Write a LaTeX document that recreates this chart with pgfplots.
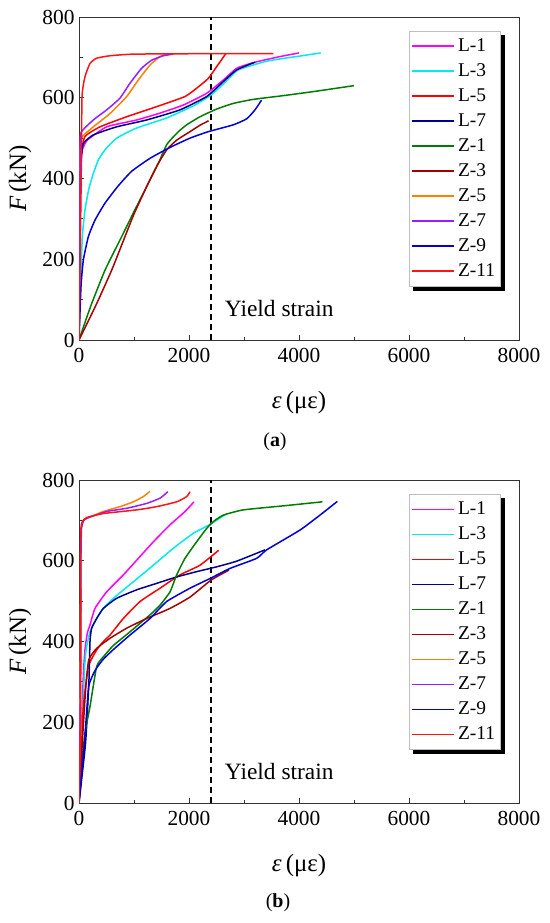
\documentclass[border=0pt]{standalone}
\usepackage{pgfplots}
\pgfplotsset{compat=1.18}
\usepackage{fontspec}
\setmainfont{Liberation Serif}
\definecolor{cL1}{RGB}{255,0,255}
\definecolor{cL3}{RGB}{0,235,235}
\definecolor{cL5}{RGB}{255,0,0}
\definecolor{cL7}{RGB}{0,0,140}
\definecolor{cZ1}{RGB}{0,125,0}
\definecolor{cZ3}{RGB}{165,0,0}
\definecolor{cZ5}{RGB}{255,128,0}
\definecolor{cZ7}{RGB}{150,30,255}
\definecolor{cZ9}{RGB}{0,0,215}
\definecolor{cZ11}{RGB}{255,20,20}
\pgfplotsset{
  myaxis/.style={
    scale only axis, width=440bp, height=323bp,
    xmin=0, xmax=8000, ymin=0, ymax=800,
    xtick={0,2000,...,8000}, ytick={0,200,...,800},
    minor xtick={1000,3000,5000,7000}, minor ytick={100,300,500,700},
    tick align=inside, xtick pos=left, ytick pos=left,
    major tick length=5bp, minor tick length=3.5bp,
    axis line style={line width=0.9bp, black!80},
    every tick/.style={black!80, line width=0.8bp},
    scaled ticks=false,
    /pgf/number format/1000 sep={},
    /pgf/number format/assume math mode=true,
    tick label style={font=\fontsize{21.5}{21.5}\selectfont},
    xticklabel style={yshift=-4.5bp},
    yticklabel style={xshift=-1bp},
    xlabel={{\itshape ε}\,(με)},
    ylabel={{\itshape F}\,(kN)},
    label style={font=\fontsize{25}{25}\selectfont},
    xlabel style={at={(axis description cs:0.5,-0.195)}, anchor=center},
    ylabel style={at={(axis description cs:-0.134,0.5)}, anchor=center},
    every axis plot/.append style={line width=1.5bp, smooth, tension=0.3},
    legend cell align=left,
    legend image code/.code={\draw[#1,line width=1.6bp,sharp plot] (0bp,0bp) -- (42bp,0bp);},
    legend style={at={(0.959,0.957)}, anchor=north east,
      draw=black!25, line width=0.8bp, fill=white,
      font=\fontsize{19.5}{19.5}\selectfont,
      inner xsep=2.5bp, inner ysep=2.5bp, row sep=0pt,
      nodes={text height=14.5bp, text depth=4.5bp, inner ysep=3bp, inner xsep=3bp}},
  }
}
\begin{document}
\begin{tikzpicture}
\useasboundingbox (0,0) rectangle (550bp,-923bp);
% ---------------- (a)
\begin{axis}[myaxis, at={(79bp,-340bp)}, anchor=south west, legend style={name=legA}]
\addplot[black, line width=1.1bp, sharp plot, dash pattern=on 6bp off 4bp, forget plot] coordinates {(2400,0) (2400,800)};
\addplot[cL1] coordinates {(0,0) (15,200) (25,350) (35,430) (60,470) (150,495) (503,528) (1048,545) (1473,562) (1897,582) (2321,611) (2624,644) (2867,673) (3170,687) (3618,701) (4000,711)};
\addlegendentry{L-1}
\addplot[cL3] coordinates {(0,0) (30,140) (60,255) (109,322) (180,375) (260,412) (352,446) (473,471) (685,500) (1048,525) (1594,550) (2079,580) (2382,605) (2655,638) (2897,669) (3427,691) (4000,703) (4395,711)};
\addlegendentry{L-3}
\addplot[cL5] coordinates {(0,0) (10,200) (20,380) (40,460) (109,504) (382,528) (867,553) (1412,578) (1927,603) (2170,627) (2352,648) (2503,677) (2673,710)};
\addlegendentry{L-5}
\addplot[cL7] coordinates {(0,0) (10,200) (20,380) (40,450) (79,487) (261,508) (685,528) (1230,545) (1836,570) (2321,603) (2624,640) (2867,669) (3200,688)};
\addlegendentry{L-7}
\addplot[cZ1] coordinates {(0,0) (100,40) (230,90) (473,173) (776,256) (1000,318) (1250,385) (1450,440) (1600,485) (1800,515) (1958,533) (2200,553) (2503,572) (2806,586) (3170,596) (3700,605) (4300,616) (5000,630)};
\addlegendentry{Z-1}
\addplot[cZ3] coordinates {(0,0) (321,90) (594,173) (836,256) (1000,312) (1230,380) (1420,432) (1594,471) (1776,495) (2018,516) (2200,532) (2357,543)};
\addlegendentry{Z-3}
\addplot[cZ5] coordinates {(0,0) (10,250) (20,450) (40,500) (261,528) (564,561) (867,603) (1079,644) (1291,681) (1473,702) (1594,708)};
\addlegendentry{Z-5}
\addplot[cZ7] coordinates {(0,0) (10,250) (20,450) (30,512) (261,545) (503,570) (745,599) (927,636) (1139,673) (1321,693) (1533,704) (1715,708)};
\addlegendentry{Z-7}
\addplot[cZ9] coordinates {(0,0) (36,132) (79,198) (170,256) (291,297) (473,339) (715,382) (958,418) (1291,450) (1655,477) (2018,500) (2352,516) (2806,533) (3050,548) (3200,570) (3318,594)};
\addlegendentry{Z-9}
\addplot[cZ11] coordinates {(0,0) (20,200) (40,400) (55,602) (109,652) (200,685) (321,698) (564,704) (982,708) (2000,709) (3535,709)};
\addlegendentry{Z-11}
\node[anchor=base west, font=\fontsize{23.5}{23.5}\selectfont] at (axis cs:2590,59) {Yield strain};
\end{axis}
\fill[black] ([yshift=-4.5bp]legA.north east) rectangle ([xshift=4.5bp,yshift=-4.5bp]legA.south east);
\fill[black] ([xshift=4.5bp]legA.south west) rectangle ([xshift=4.5bp,yshift=-4.5bp]legA.south east);
% ---------------- (b)
\begin{axis}[myaxis, at={(79bp,-803bp)}, anchor=south west, legend style={name=legB}]
\addplot[black, line width=1.1bp, sharp plot, dash pattern=on 6bp off 4bp, forget plot] coordinates {(2400,0) (2400,800)};
\addplot[cL1] coordinates {(0,0) (50,200) (80,320) (109,380) (150,420) (200,441) (291,482) (503,523) (806,565) (1079,606) (1352,647) (1655,689) (1927,722) (2091,746)};
\addlegendentry{L-1}
\addplot[cL3] coordinates {(0,0) (60,200) (100,330) (130,380) (200,424) (321,457) (442,482) (624,507) (988,548) (1352,589) (1715,631) (2079,668) (2382,690) (2667,715)};
\addlegendentry{L-3}
\addplot[cL5] coordinates {(0,0) (50,150) (79,239) (170,338) (321,379) (442,400) (564,416) (806,457) (1109,499) (1473,532) (1836,565) (2200,589) (2540,626)};
\addlegendentry{L-5}
\addplot[cL7] coordinates {(0,0) (120,150) (180,300) (200,400) (230,433) (321,457) (442,482) (685,507) (1048,528) (1412,544) (1776,560) (2139,573) (2503,585) (2867,599) (3382,627)};
\addlegendentry{L-7}
\addplot[cZ1] coordinates {(0,0) (18,57) (109,173) (200,239) (321,338) (442,362) (624,390) (927,424) (1291,466) (1473,490) (1655,523) (1776,565) (1927,606) (2139,647) (2321,680) (2442,697) (2624,713) (2988,726) (3715,736) (4424,746)};
\addlegendentry{Z-1}
\addplot[cZ3] coordinates {(0,0) (60,150) (120,280) (176,354) (321,383) (564,408) (867,433) (1230,457) (1655,482) (2018,510) (2400,552) (2727,577)};
\addlegendentry{Z-3}
\addplot[cZ5] coordinates {(0,0) (15,200) (25,400) (30,600) (40,680) (80,700) (139,705) (442,722) (745,734) (988,746) (1170,759) (1290,772)};
\addlegendentry{Z-5}
\addplot[cZ7] coordinates {(0,0) (20,200) (30,400) (35,600) (45,680) (80,698) (139,705) (503,722) (867,730) (1230,742) (1473,755) (1615,771)};
\addlegendentry{Z-7}
\addplot[cZ9] coordinates {(0,0) (100,150) (176,288) (300,330) (442,356) (624,380) (927,416) (1291,457) (1594,499) (2018,532) (2382,556) (2745,581) (3230,606) (3412,627) (4018,676) (4400,715) (4697,747)};
\addlegendentry{Z-9}
\addplot[cZ11] coordinates {(0,0) (25,200) (35,400) (30,600) (35,680) (60,697) (139,707) (442,717) (1048,726) (1412,734) (1776,746) (1958,759) (2018,771)};
\addlegendentry{Z-11}
\node[anchor=base west, font=\fontsize{23.5}{23.5}\selectfont] at (axis cs:2590,59) {Yield strain};
\end{axis}
\fill[black] ([yshift=-4.5bp]legB.north east) rectangle ([xshift=4.5bp,yshift=-4.5bp]legB.south east);
\fill[black] ([xshift=4.5bp]legB.south west) rectangle ([xshift=4.5bp,yshift=-4.5bp]legB.south east);
\node[font=\fontsize{20}{20}\selectfont] at (275bp,-442bp) {(\textbf{a})};
\node[font=\fontsize{20}{20}\selectfont] at (278bp,-903bp) {(\textbf{b})};
\end{tikzpicture}
\end{document}
